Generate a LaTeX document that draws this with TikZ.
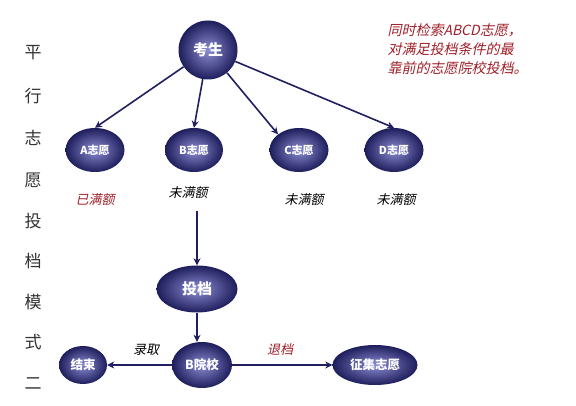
\documentclass[tikz,border=0pt]{standalone}
\usepackage{fontspec}
\setmainfont{Noto Sans CJK SC}
\newfontfamily\cjkit{Noto Sans CJK SC}[FakeSlant=0.22]
\usetikzlibrary{arrows.meta,shapes.geometric}
\definecolor{navy}{RGB}{32,32,96}
\definecolor{ballin}{RGB}{140,140,212}
\definecolor{ballout}{RGB}{30,30,92}
\definecolor{redtxt}{RGB}{160,30,40}
\tikzset{
  ball/.style={ellipse, shading=radial, inner color=ballin, outer color=ballout,
    draw=none, text=white, font=\bfseries, inner sep=0pt},
  conn/.style={draw=navy, line width=1.6pt, -{Stealth[length=7pt,width=7pt]}},
  lab/.style={font=\cjkit\fontsize{13}{13}\selectfont, text=black},
  redlab/.style={font=\cjkit\fontsize{13}{13}\selectfont, text=redtxt},
  title/.style={font=\fontsize{17}{17}\selectfont, text=black!80}
}
\begin{document}
\begin{tikzpicture}[x=1pt,y=-1pt]
\useasboundingbox (0,0) rectangle (576,406);
\fill[white] (0,0) rectangle (576,406);
% vertical title
\node[title] (t1) at (33,53) {平};
\node[title] (t2) at (33,96) {行};
\node[title] (t3) at (33,138) {志};
\node[title] (t4) at (33,180) {愿};
\node[title] (t5) at (33,221) {投};
\node[title] (t6) at (33,261) {档};
\node[title] (t7) at (33,302) {模};
\node[title] (t8) at (33,342) {式};
\node[title] (t9) at (33,384) {二};
% nodes
\node[ball, minimum width=59pt, minimum height=59pt, font=\bfseries\fontsize{15}{15}\selectfont] (ks) at (208,50) {考生};
\node[ball, minimum width=59pt, minimum height=44pt, font=\bfseries\fontsize{11}{11}\selectfont] (A) at (95,150) {A志愿};
\node[ball, minimum width=58pt, minimum height=44pt, font=\bfseries\fontsize{11}{11}\selectfont] (B) at (194,150) {B志愿};
\node[ball, minimum width=59pt, minimum height=44pt, font=\bfseries\fontsize{11}{11}\selectfont] (C) at (299,150) {C志愿};
\node[ball, minimum width=59pt, minimum height=44pt, font=\bfseries\fontsize{11}{11}\selectfont] (D) at (394,150) {D志愿};
\node[ball, minimum width=81pt, minimum height=47pt, font=\bfseries\fontsize{15}{15}\selectfont] (td) at (197,289) {投档};
\node[ball, minimum width=60pt, minimum height=46pt, font=\bfseries\fontsize{12.5}{12.5}\selectfont] (byx) at (202,365) {B院校};
\node[ball, minimum width=48pt, minimum height=38pt, font=\bfseries\fontsize{12.5}{12.5}\selectfont] (js) at (83,365) {结束};
\node[ball, minimum width=85pt, minimum height=40pt, font=\bfseries\fontsize{12.5}{12.5}\selectfont] (zj) at (375,365) {征集志愿};
% labels
\node[redlab] (l1) at (95,200) {已满额};
\node[lab] (l2) at (188,193) {未满额};
\node[lab] (l3) at (304,200) {未满额};
\node[lab] (l4) at (396,200) {未满额};
\node[lab] (lq) at (146,350) {录取};
\node[redlab] (lt) at (280,350) {退档};
\node[font=\cjkit\fontsize{14}{19}\selectfont, text=redtxt, align=left, anchor=north west] (note) at (384,20) {同时检索ABCD志愿，\\对满足投档条件的最\\靠前的志愿院校投档。};
% connectors
\draw[conn] (ks) -- (A.north);
\draw[conn] (ks) -- (B.north);
\draw[conn] (ks) -- (C.north west);
\draw[conn] (ks) -- (D.north);
\draw[conn] (l2.south -| td.north) ++(0,8) coordinate (bs) -- (td.north);
\draw[conn] (td.south) -- (td.south |- byx.north);
\draw[conn] (byx) -- (js);
\draw[conn] (byx) -- (zj);
\end{tikzpicture}
\end{document}
